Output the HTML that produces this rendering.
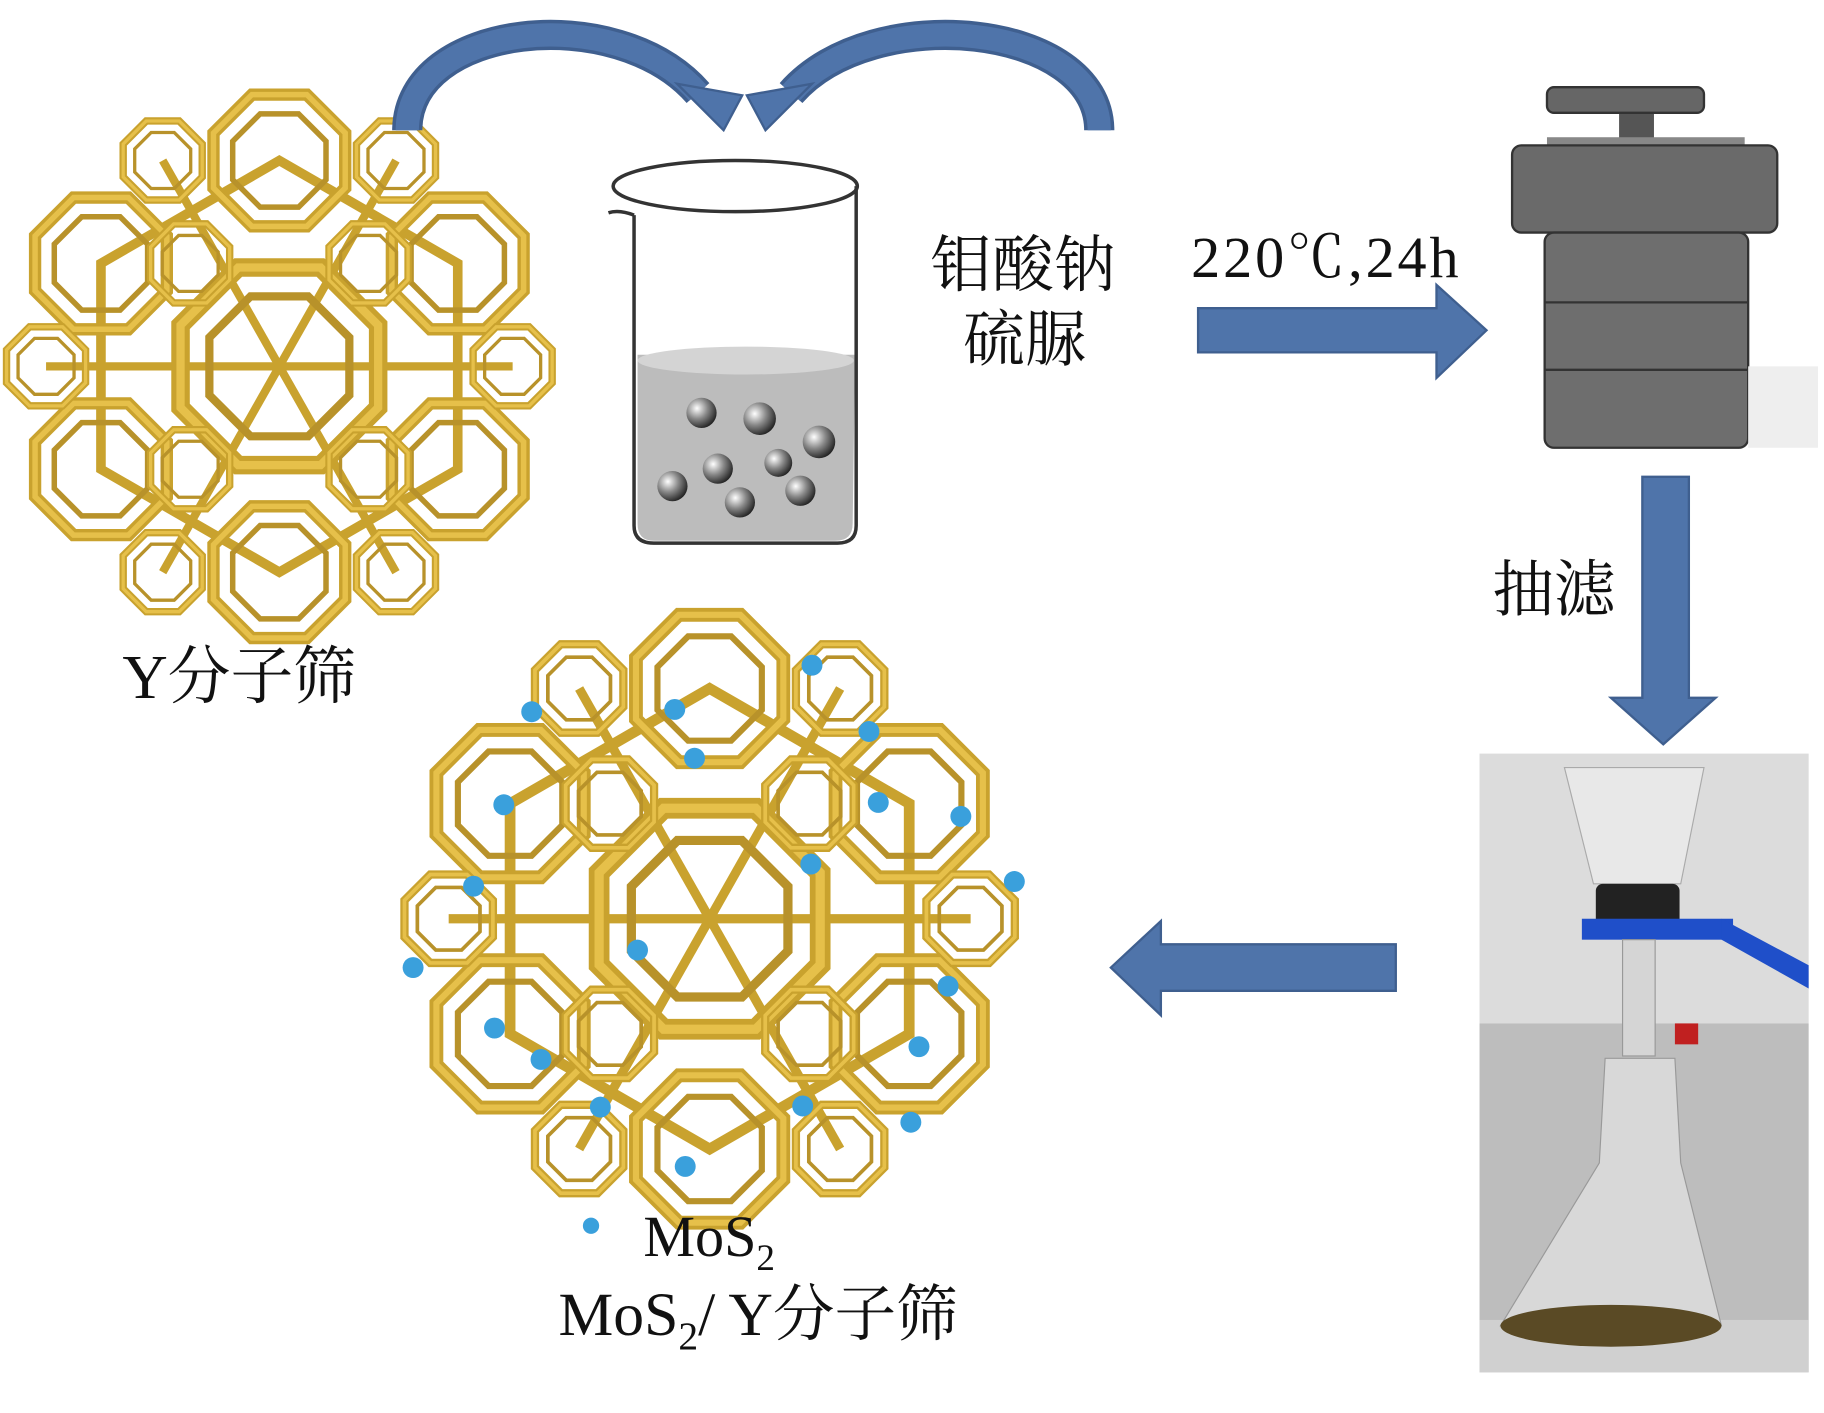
<!DOCTYPE html>
<html><head><meta charset="utf-8"><style>
html,body{margin:0;padding:0;background:#fff;}
svg{display:block;}
text{font-family:"Liberation Serif","Noto Serif CJK SC",serif;fill:#111;}
</style></head><body>
<svg width="1824" height="1413" viewBox="0 0 1568 1215" xmlns="http://www.w3.org/2000/svg">
<defs>
  <g id="cage">
    <polygon points="-20,-48 20,-48 48,-20 48,20 20,48 -20,48 -48,20 -48,-20" fill="none" stroke="#c9a22e" stroke-width="9"/>
    <polygon points="-20,-48 20,-48 48,-20 48,20 20,48 -20,48 -48,20 -48,-20" fill="none" stroke="#e6c04a" stroke-width="4"/>
    <polygon points="-14,-34 14,-34 34,-14 34,14 14,34 -14,34 -34,14 -34,-14" fill="none" stroke="#b8922a" stroke-width="4"/>
  </g>
  <g id="zeo">
    <polygon points="0,-150 130,-75 130,75 0,150 -130,75 -130,-75" fill="none" stroke="#c9a22e" stroke-width="7"/>
    <g stroke="#c9a22e" stroke-width="6">
      <line x1="-170" y1="0" x2="170" y2="0"/>
      <line x1="-85" y1="-150" x2="85" y2="150"/>
      <line x1="85" y1="-150" x2="-85" y2="150"/>
    </g>
    <use href="#cage" transform="translate(0,0) scale(1.5)"/>
    <use href="#cage" transform="translate(0,-150)"/>
    <use href="#cage" transform="translate(130,-75)"/>
    <use href="#cage" transform="translate(130,75)"/>
    <use href="#cage" transform="translate(0,150)"/>
    <use href="#cage" transform="translate(-130,75)"/>
    <use href="#cage" transform="translate(-130,-75)"/>
    <use href="#cage" transform="translate(-85,-150) scale(0.6)"/>
    <use href="#cage" transform="translate(85,-150) scale(0.6)"/>
    <use href="#cage" transform="translate(170,0) scale(0.6)"/>
    <use href="#cage" transform="translate(85,150) scale(0.6)"/>
    <use href="#cage" transform="translate(-85,150) scale(0.6)"/>
    <use href="#cage" transform="translate(-170,0) scale(0.6)"/>
    <use href="#cage" transform="translate(-65,-75) scale(0.6)"/>
    <use href="#cage" transform="translate(65,75) scale(0.6)"/>
    <use href="#cage" transform="translate(65,-75) scale(0.6)"/>
    <use href="#cage" transform="translate(-65,75) scale(0.6)"/>
  </g>
  <radialGradient id="ball" cx="0.35" cy="0.35" r="0.7">
    <stop offset="0" stop-color="#fff"/><stop offset="0.5" stop-color="#888"/><stop offset="1" stop-color="#222"/>
  </radialGradient>
</defs>

<!-- left zeolite -->
<g transform="translate(240,315) scale(1.18)"><use href="#zeo"/></g>

<!-- curved arrows -->
<path d="M350,112 C350,20 530,0 600,80" fill="none" stroke="#3f5f8f" stroke-width="26"/>
<path d="M350,112 C350,20 530,0 600,80" fill="none" stroke="#4f74aa" stroke-width="20"/>
<polygon points="582,72 638,82 622,112" fill="#4f74aa" stroke="#3f5f8f" stroke-width="2"/>
<path d="M945,112 C945,20 750,0 680,80" fill="none" stroke="#3f5f8f" stroke-width="26"/>
<path d="M945,112 C945,20 750,0 680,80" fill="none" stroke="#4f74aa" stroke-width="20"/>
<polygon points="698,72 642,82 658,112" fill="#4f74aa" stroke="#3f5f8f" stroke-width="2"/>

<!-- beaker -->
<path d="M548,305 L735,305 L733,450 Q733,465 718,465 L562,465 Q548,465 548,450 Z" fill="#bcbcbc"/>
<ellipse cx="641" cy="310" rx="93" ry="12" fill="#d4d4d4"/>
<path d="M545,185 L545,452 Q545,467 562,467 L720,467 Q736,467 736,452 L736,160" fill="none" stroke="#333" stroke-width="3"/>
<ellipse cx="632" cy="160" rx="105" ry="22" fill="none" stroke="#333" stroke-width="3"/>
<path d="M523,183 Q532,180 545,185" fill="none" stroke="#333" stroke-width="3"/>
<g fill="url(#ball)">
<circle cx="603" cy="355" r="13"/><circle cx="653" cy="360" r="14"/><circle cx="704" cy="380" r="14"/>
<circle cx="617" cy="403" r="13"/><circle cx="669" cy="398" r="12"/><circle cx="578" cy="418" r="13"/>
<circle cx="636" cy="432" r="13"/><circle cx="688" cy="422" r="13"/>
</g>

<text x="800" y="246" font-size="53">钼酸钠</text>
<text x="828" y="310" font-size="53">硫脲</text>
<text x="1024" y="238" font-size="50" textLength="230">220℃,24h</text>

<!-- right arrow -->
<polygon points="1030,265 1235,265 1235,245 1278,284 1235,325 1235,303 1030,303" fill="#4f74aa" stroke="#3f5f8f" stroke-width="2"/>

<!-- autoclave -->
<rect x="1392" y="95" width="30" height="30" fill="#555"/>
<rect x="1330" y="75" width="135" height="22" rx="6" fill="#666" stroke="#333" stroke-width="2"/>
<rect x="1330" y="118" width="170" height="10" fill="#888"/>
<rect x="1300" y="125" width="228" height="75" rx="8" fill="#6a6a6a" stroke="#333" stroke-width="2"/>
<rect x="1328" y="200" width="175" height="185" rx="8" fill="#6e6e6e" stroke="#333" stroke-width="2"/>
<line x1="1328" y1="260" x2="1503" y2="260" stroke="#333" stroke-width="2"/>
<line x1="1328" y1="318" x2="1503" y2="318" stroke="#333" stroke-width="2"/>
<rect x="1503" y="315" width="60" height="70" fill="#eee"/>

<!-- down arrow -->
<polygon points="1412,410 1452,410 1452,600 1475,600 1430,640 1385,600 1412,600" fill="#4f74aa" stroke="#3f5f8f" stroke-width="2"/>
<text x="1283" y="525" font-size="53">抽滤</text>

<!-- photo -->
<rect x="1272" y="648" width="283" height="232" fill="#dcdcdc"/>
<rect x="1272" y="880" width="283" height="300" fill="#bdbdbd"/>
<rect x="1272" y="1135" width="283" height="45" fill="#d0d0d0"/>
<path d="M1345,660 L1465,660 L1445,760 L1370,760 Z" fill="#e8e8e8" stroke="#aaa"/>
<rect x="1372" y="760" width="72" height="38" rx="6" fill="#222"/>
<rect x="1360" y="790" width="130" height="18" fill="#1f4fc9"/>
<polygon points="1480,790 1555,830 1555,850 1480,808" fill="#1f4fc9"/>
<rect x="1395" y="808" width="28" height="100" fill="#d5d5d5" stroke="#999"/>
<rect x="1440" y="880" width="20" height="18" fill="#c02020"/>
<path d="M1380,910 L1440,910 L1445,1000 L1480,1140 L1290,1140 L1375,1000 Z" fill="#d8d8d8" stroke="#999"/>
<ellipse cx="1385" cy="1140" rx="95" ry="18" fill="#5a4a25"/>

<!-- left arrow -->
<polygon points="1200,812 998,812 998,792 955,832 998,873 998,852 1200,852" fill="#4f74aa" stroke="#3f5f8f" stroke-width="2"/>

<!-- lower zeolite -->
<g transform="translate(610,790) scale(1.32)"><use href="#zeo"/></g>
<g fill="#3aa0dc">
<circle cx="457" cy="612" r="9"/><circle cx="580" cy="610" r="9"/><circle cx="698" cy="572" r="9"/>
<circle cx="597" cy="652" r="9"/><circle cx="747" cy="629" r="9"/><circle cx="433" cy="692" r="9"/>
<circle cx="755" cy="690" r="9"/><circle cx="826" cy="702" r="9"/><circle cx="697" cy="743" r="9"/>
<circle cx="407" cy="762" r="9"/><circle cx="872" cy="758" r="9"/><circle cx="548" cy="817" r="9"/>
<circle cx="355" cy="832" r="9"/><circle cx="815" cy="848" r="9"/><circle cx="425" cy="884" r="9"/>
<circle cx="790" cy="900" r="9"/><circle cx="465" cy="911" r="9"/><circle cx="516" cy="952" r="9"/>
<circle cx="690" cy="951" r="9"/><circle cx="783" cy="965" r="9"/><circle cx="589" cy="1003" r="9"/>
<circle cx="508" cy="1054" r="7"/>
</g>

<text x="105" y="600" font-size="54">Y分子筛</text>
<text x="553" y="1080" font-size="50">MoS<tspan font-size="32" dy="12">2</tspan></text>
<text x="480" y="1148" font-size="53">MoS<tspan font-size="34" dy="12">2</tspan><tspan dy="-12">/ Y分子筛</tspan></text>
</svg>
</body></html>
